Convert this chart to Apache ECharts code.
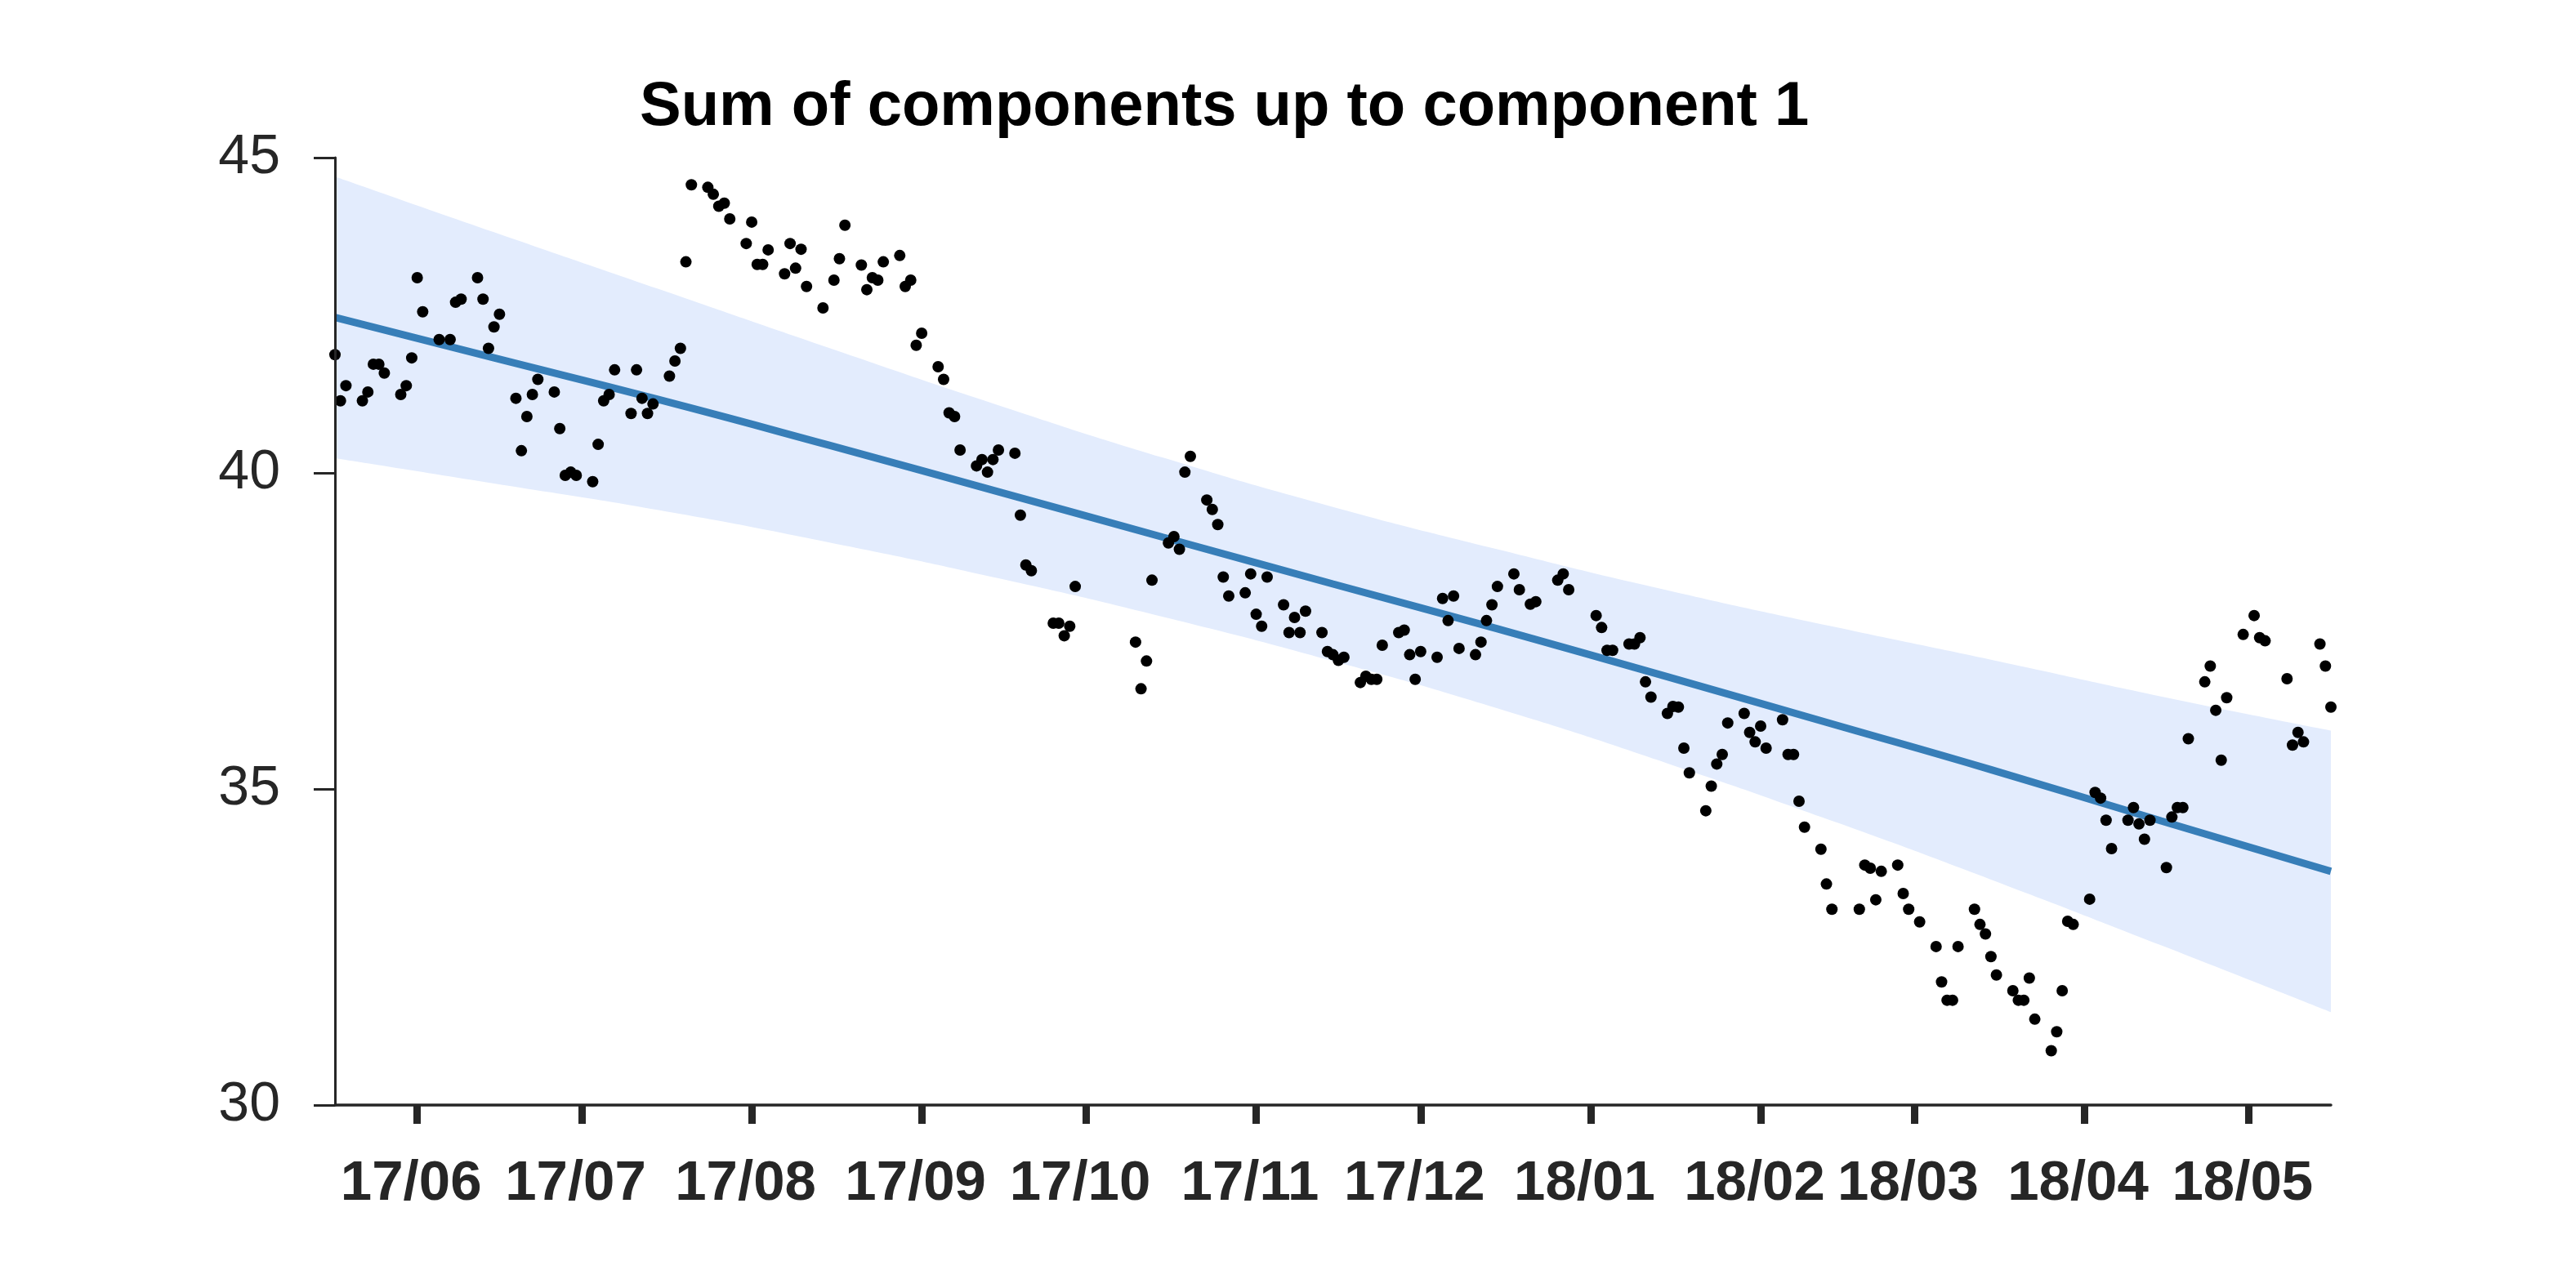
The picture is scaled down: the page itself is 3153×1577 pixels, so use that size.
<!DOCTYPE html>
<html>
<head>
<meta charset="utf-8">
<script src="https://cdn.jsdelivr.net/npm/echarts@6/dist/echarts.min.js"></script>
<style>
html,body{margin:0;padding:0;background:#fff;}
#chart{width:3153px;height:1577px;}
</style>
</head>
<body>
<div id="chart"></div>
<script>
// Observed dates (trading days) and values
const dates = [
'2017-05-17','2017-05-18','2017-05-19','2017-05-22','2017-05-23','2017-05-24','2017-05-25','2017-05-26','2017-05-29','2017-05-30','2017-05-31',
'2017-06-01','2017-06-02','2017-06-05','2017-06-07','2017-06-08','2017-06-09','2017-06-12','2017-06-13','2017-06-14','2017-06-15','2017-06-16',
'2017-06-19','2017-06-20','2017-06-21','2017-06-22','2017-06-23','2017-06-26','2017-06-27','2017-06-28','2017-06-29','2017-06-30',
'2017-07-03','2017-07-04','2017-07-05','2017-07-06','2017-07-07','2017-07-10','2017-07-11','2017-07-12','2017-07-13','2017-07-14',
'2017-07-17','2017-07-18','2017-07-19','2017-07-20','2017-07-21','2017-07-24','2017-07-25','2017-07-26','2017-07-27','2017-07-28','2017-07-31',
'2017-08-01','2017-08-02','2017-08-03','2017-08-04','2017-08-07','2017-08-08','2017-08-09','2017-08-10','2017-08-11','2017-08-14','2017-08-16',
'2017-08-17','2017-08-18','2017-08-21','2017-08-22','2017-08-23','2017-08-24','2017-08-25','2017-08-28','2017-08-29','2017-08-30','2017-08-31',
'2017-09-01','2017-09-04','2017-09-05','2017-09-06','2017-09-07','2017-09-08','2017-09-11','2017-09-12','2017-09-13','2017-09-14','2017-09-15',
'2017-09-18','2017-09-19','2017-09-20','2017-09-21','2017-09-25','2017-09-26','2017-09-27','2017-09-28','2017-09-29',
'2017-10-10','2017-10-11','2017-10-12','2017-10-13','2017-10-16','2017-10-17','2017-10-18','2017-10-19','2017-10-20','2017-10-23','2017-10-24',
'2017-10-25','2017-10-26','2017-10-27','2017-10-30','2017-10-31',
'2017-11-01','2017-11-02','2017-11-03','2017-11-06','2017-11-07','2017-11-08','2017-11-09','2017-11-10','2017-11-13','2017-11-14','2017-11-15',
'2017-11-16','2017-11-17','2017-11-20','2017-11-21','2017-11-22','2017-11-23','2017-11-24','2017-11-27','2017-11-28','2017-11-29','2017-11-30',
'2017-12-01','2017-12-04','2017-12-05','2017-12-06','2017-12-07','2017-12-08','2017-12-11','2017-12-12','2017-12-13','2017-12-14','2017-12-15',
'2017-12-18','2017-12-19','2017-12-21','2017-12-22','2017-12-26','2017-12-27','2017-12-28',
'2018-01-02','2018-01-03','2018-01-04','2018-01-05','2018-01-08','2018-01-09','2018-01-10','2018-01-11','2018-01-12','2018-01-15','2018-01-16',
'2018-01-17','2018-01-18','2018-01-19','2018-01-22','2018-01-23','2018-01-24','2018-01-25','2018-01-26','2018-01-29','2018-01-30','2018-01-31',
'2018-02-01','2018-02-02','2018-02-05','2018-02-06','2018-02-07','2018-02-08','2018-02-09','2018-02-12','2018-02-13','2018-02-14',
'2018-02-19','2018-02-20','2018-02-21','2018-02-22','2018-02-23','2018-02-26','2018-02-27','2018-02-28',
'2018-03-02','2018-03-05','2018-03-06','2018-03-07','2018-03-08','2018-03-09','2018-03-12','2018-03-13','2018-03-14','2018-03-15','2018-03-16',
'2018-03-19','2018-03-20','2018-03-21','2018-03-22','2018-03-23','2018-03-26','2018-03-27','2018-03-28','2018-03-29','2018-03-30',
'2018-04-02','2018-04-03','2018-04-04','2018-04-05','2018-04-06','2018-04-09','2018-04-10','2018-04-11','2018-04-12','2018-04-13',
'2018-04-16','2018-04-17','2018-04-18','2018-04-19','2018-04-20','2018-04-23','2018-04-24','2018-04-25','2018-04-26','2018-04-27','2018-04-30',
'2018-05-02','2018-05-03','2018-05-04','2018-05-08','2018-05-09','2018-05-10','2018-05-11','2018-05-14','2018-05-15','2018-05-16'
];
const values = [
41.88,41.15,41.39,41.15,41.29,41.73,41.73,41.59,41.25,41.39,41.83,
43.10,42.56,42.12,42.12,42.71,42.76,43.10,42.76,41.98,42.32,42.52,
41.19,40.36,40.90,41.25,41.49,41.29,40.71,39.97,40.02,39.97,
39.87,40.46,41.15,41.25,41.64,40.95,41.64,41.19,40.95,41.10,
41.54,41.78,41.98,43.35,44.57,44.53,44.42,44.23,44.28,44.03,43.64,
43.98,43.31,43.31,43.54,43.16,43.64,43.25,43.55,42.96,42.62,43.06,
43.40,43.93,43.30,42.91,43.10,43.06,43.35,43.45,42.96,43.06,42.03,
42.22,41.69,41.49,40.96,40.90,40.37,40.12,40.22,40.02,40.22,40.37,
40.32,39.34,38.55,38.46,37.63,37.63,37.43,37.58,38.21,
37.33,36.59,37.03,38.31,38.90,39.00,38.80,40.02,40.27,39.58,39.43,
39.19,38.36,38.06,38.11,38.41,
37.77,37.58,38.36,37.92,37.48,37.72,37.48,37.82,37.48,37.18,37.13,
37.04,37.09,36.69,36.79,36.74,36.74,37.28,37.48,37.52,37.13,36.74,
37.18,37.09,38.02,37.67,38.06,37.23,37.13,37.33,37.67,37.92,38.21,
38.41,38.16,37.93,37.97,38.31,38.41,38.16,
37.75,37.56,37.20,37.20,37.30,37.30,37.40,36.70,36.46,36.20,36.31,
36.30,35.65,35.26,34.66,35.05,35.40,35.55,36.05,36.20,35.90,35.75,
36.00,35.65,36.10,35.55,35.55,34.81,34.40,34.05,33.50,33.10,
33.10,33.80,33.75,33.25,33.70,33.80,33.35,33.10,
32.90,32.51,31.95,31.66,31.66,32.51,33.10,32.86,32.71,32.35,32.06,
31.81,31.66,31.66,32.01,31.36,30.86,31.16,31.81,32.91,32.86,
33.26,34.95,34.86,34.51,34.06,34.51,34.71,34.45,34.21,34.51,
33.76,34.56,34.71,34.71,35.80,36.70,36.95,36.25,35.46,36.45,37.45,
37.75,37.40,37.35,36.75,35.70,35.90,35.75,37.30,36.95,36.30
];
// Trend line and band read at monthly sample dates
const trendDates = ['2017-05-17','2017-06-15','2017-07-15','2017-08-15','2017-09-15','2017-10-15','2017-11-15','2017-12-15','2018-01-15','2018-02-15','2018-03-15','2018-04-15','2018-05-16'];
const trendValues = [42.47,41.83,41.17,40.45,39.71,38.99,38.25,37.54,36.78,36.01,35.31,34.50,33.70];
const bandUpper   = [44.70,43.82,42.92,41.99,41.08,40.25,39.47,38.80,38.15,37.56,37.05,36.47,35.93];
const bandLower   = [40.24,39.84,39.42,38.91,38.34,37.73,37.03,36.28,35.41,34.47,33.57,32.53,31.47];
const yTicks = [30, 35, 40, 45];
const titleText = 'Sum of components up to component 1';

const chart = echarts.init(document.getElementById('chart'), null, {renderer: 'canvas'});
const FONT = 'Liberation Sans, Arial, Helvetica, sans-serif';
const TXT = '#262626';

const option = {
  animation: false,
  backgroundColor: '#ffffff',
  title: {
    text: titleText,
    left: 778,
    top: 89,
    textStyle: {fontFamily: FONT, fontSize: 76, fontWeight: 'bold', color: '#000000'}
  },
  grid: {left: 410, right: 300, top: 193, bottom: 224, containLabel: false},
  xAxis: {
    type: 'time',
    min: '2017-05-17',
    max: '2018-05-16',
    splitNumber: 12,
    minInterval: 28 * 86400000,
    maxInterval: 31 * 86400000,
    z: 10,
    axisLine: {show: true, lineStyle: {color: TXT, width: 3.5}},
    axisTick: {show: true, length: 23, lineStyle: {color: TXT, width: 9}},
    splitLine: {show: false},
    axisLabel: {
      formatter: '{yy}/{MM}',
      fontFamily: FONT, fontSize: 69, fontWeight: 'bold', color: TXT,
      margin: 62,
      padding: [0, 15, 0, 0],
      hideOverlap: false
    }
  },
  yAxis: {
    type: 'value',
    min: yTicks[0],
    max: yTicks[yTicks.length - 1],
    interval: 5,
    z: 10,
    axisLine: {show: true, lineStyle: {color: TXT, width: 3}},
    axisTick: {show: true, length: 26, lineStyle: {color: TXT, width: 3}},
    splitLine: {show: false},
    axisLabel: {fontFamily: FONT, fontSize: 68, color: TXT, margin: 67}
  },
  series: [
    {
      name: 'bandLower', type: 'line', stack: 'band', smooth: true, symbol: 'none',
      lineStyle: {opacity: 0}, silent: true, z: 1,
      data: trendDates.map((d, i) => [d, bandLower[i]])
    },
    {
      name: 'bandWidth', type: 'line', stack: 'band', smooth: true, symbol: 'none',
      lineStyle: {opacity: 0}, silent: true, z: 1,
      areaStyle: {color: 'rgb(227,236,253)', opacity: 1},
      data: trendDates.map((d, i) => [d, +(bandUpper[i] - bandLower[i]).toFixed(2)])
    },
    {
      name: 'trend', type: 'line', smooth: true, symbol: 'none', z: 3,
      lineStyle: {color: '#377eb8', width: 9},
      data: trendDates.map((d, i) => [d, trendValues[i]])
    },
    {
      name: 'observed', type: 'scatter', symbol: 'circle', symbolSize: 14, z: 5,
      itemStyle: {color: '#000000', opacity: 1},
      data: dates.map((d, i) => [d, values[i]])
    }
  ]
};
chart.setOption(option);
</script>
</body>
</html>
